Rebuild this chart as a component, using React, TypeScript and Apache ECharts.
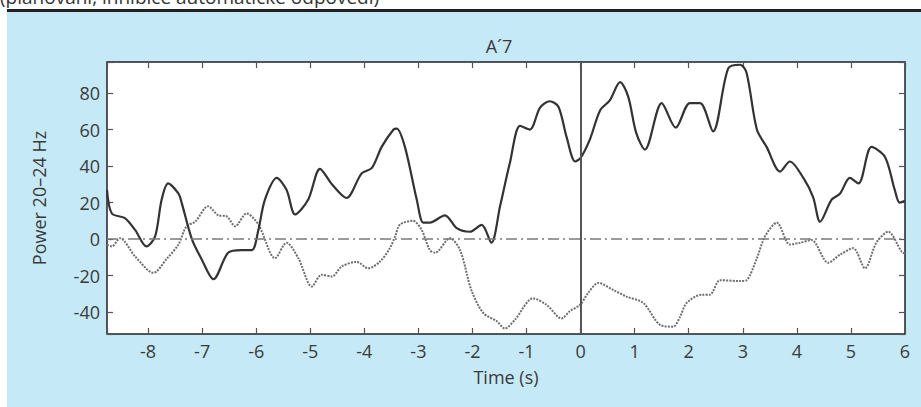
import React, { useEffect, useRef } from "react";
import * as echarts from "echarts";

const FONT = '"Open Sans", "Noto Sans", sans-serif';

// Axis ranges
const X_MIN = -8.76;
const X_MAX = 6;
const Y_MIN = -52;
const Y_MAX = 97;

const titleText = "A´7";
const headerText = "(plánování, inhibice automatické odpovědi)";
const xName = "Time (s)";
const yName = "Power 20–24 Hz";

// Solid (dark) trace
const solidTime = [
  -8.76, -8.67, -8.43, -8.24, -8.03, -7.87, -7.75, -7.63, -7.44, -7.38, -7.19, -7.01, -6.79, -6.52,
  -6.27, -6.08, -5.96, -5.84, -5.62, -5.44, -5.28, -5.04, -4.82, -4.6, -4.33, -4.05, -3.86, -3.68,
  -3.46, -3.4, -3.25, -3.03, -2.91, -2.79, -2.51, -2.29, -2.05, -1.83, -1.65, -1.49, -1.31, -1.12,
  -0.94, -0.75, -0.57, -0.41, -0.26, -0.1, 0, 0.17, 0.36, 0.54, 0.73, 0.88, 1.03, 1.19, 1.5, 1.76,
  2.02, 2.21, 2.45, 2.73, 2.95, 3.07, 3.26, 3.44, 3.69, 3.87, 4.12, 4.3, 4.43, 4.64, 4.8, 4.98,
  5.14, 5.38, 5.63, 5.81, 5.9, 6,
];
const solidPower = [
  27, 14, 11.5, 5, -4, 1.5, 21.5, 30.5, 25, 20, 0, -11, -22, -7.5,
  -6, -6, 5, 21.5, 33.5, 27, 13.5, 21.5, 38.5, 30, 22.5, 36, 39, 50.5,
  60, 60.5, 50.5, 21.5, 9, 9, 13, 6, 4, 7.8, -2, 18, 41.5, 62,
  60, 72, 75.5, 72.5, 56, 42.5, 44.5, 54.5, 70.5, 76, 86, 78, 58, 49, 74.5, 61,
  74.5, 74.5, 59, 93.5, 95.5, 91, 60, 50.5, 37, 42.5, 33.5, 23, 9.5, 21.5, 25, 33.5,
  30.5, 50.5, 45, 27, 20, 21,
];

// Dotted (grey) trace
const dottedTime = [
  -8.76, -8.67, -8.52, -8.24, -7.9, -7.66, -7.44, -7.29, -7.13, -6.89, -6.7, -6.55, -6.39, -6.18,
  -5.96, -5.65, -5.44, -5.22, -4.97, -4.79, -4.6, -4.42, -4.14, -3.93, -3.71, -3.53, -3.43, -3.34,
  -3.1, -2.94, -2.79, -2.69, -2.42, -2.23, -2.02, -1.8, -1.55, -1.4, -1.21, -0.88, -0.63, -0.35,
  -0.2, -0.01, 0.14, 0.33, 0.61, 0.85, 1.16, 1.47, 1.71, 1.84, 1.96, 2.24, 2.39, 2.58, 2.95, 3.07,
  3.26, 3.41, 3.63, 3.87, 4.06, 4.27, 4.58, 4.8, 5.04, 5.26, 5.47, 5.69, 5.94, 6,
];
const dottedPower = [
  -3, -4, 0.5, -9.5, -18.5, -11, -3, 7, 9.5, 18, 13, 12.5, 7, 14,
  8, -10.5, -2, -10.5, -26, -19.5, -20.5, -15, -12.5, -16, -12.3, -5, 1.5, 8,
  10, 5, -6, -7.5, 0.5, -6, -28, -40.5, -45, -49, -44, -32.5, -36, -43.5,
  -39.5, -36, -29.5, -24, -28, -31.5, -35, -47, -48, -42.5, -35, -30.5, -30.5, -22.5, -23, -22.5,
  -10.5, 1.5, 9, -3, -2, -0.5, -13, -8.5, -5, -16, -2, 4, -7, -8,
];

const solidData = solidTime.map((t, i) => [t, solidPower[i]]);
const dottedData = dottedTime.map((t, i) => [t, dottedPower[i]]);

const TEXT = "#3a3a3a";

function buildOption(): any {
  const tick = { inside: true, length: 6, lineStyle: { color: "#555", width: 1.2 } };
  const hiddenLine = { show: false, onZero: false };
  return {
    animation: false,
    backgroundColor: "#ffffff",
    textStyle: { fontFamily: FONT },
    graphic: [
      {
        type: "rect",
        z: -10,
        silent: true,
        shape: { x: 7, y: 12, width: 914, height: 395 },
        style: { fill: "#c6e9f8" },
      },
      {
        type: "rect",
        z: -9,
        silent: true,
        shape: { x: 7, y: 9, width: 914, height: 3 },
        style: { fill: "#231f20" },
      },
      {
        type: "text",
        x: 0,
        y: -3,
        silent: true,
        style: {
          text: headerText,
          font: `19px ${FONT}`,
          fill: "#333",
          textVerticalAlign: "middle",
        },
      },
      {
        type: "text",
        x: 499,
        y: 46,
        silent: true,
        style: {
          text: titleText,
          font: `18px ${FONT}`,
          fill: TEXT,
          textAlign: "center",
          textVerticalAlign: "middle",
        },
      },
    ],
    grid: {
      left: 107,
      right: 16,
      top: 62,
      bottom: 73,
      show: true,
      backgroundColor: "#ffffff",
      borderColor: "#231f20",
      borderWidth: 1.5,
    },
    xAxis: [
      {
        type: "value",
        min: X_MIN,
        max: X_MAX,
        splitNumber: 14,
        position: "bottom",
        axisLine: hiddenLine,
        axisTick: tick,
        splitLine: { show: false },
        axisLabel: {
          fontSize: 18,
          color: TEXT,
          margin: 8,
          formatter: (v: number) => (Number.isInteger(v) ? String(v) : ""),
        },
        name: xName,
        nameLocation: "middle",
        nameGap: 34,
        nameTextStyle: { fontSize: 18, color: TEXT },
      },
      {
        type: "value",
        min: X_MIN,
        max: X_MAX,
        splitNumber: 14,
        position: "top",
        axisLine: hiddenLine,
        axisTick: tick,
        splitLine: { show: false },
        axisLabel: { show: false },
      },
    ],
    yAxis: [
      {
        type: "value",
        min: Y_MIN,
        max: Y_MAX,
        splitNumber: 7,
        position: "left",
        axisLine: hiddenLine,
        axisTick: tick,
        splitLine: { show: false },
        axisLabel: {
          fontSize: 18,
          color: TEXT,
          margin: 7,
          formatter: (v: number) => (v % 20 === 0 ? String(v) : ""),
        },
        name: yName,
        nameLocation: "middle",
        nameGap: 59,
        nameTextStyle: { fontSize: 18, color: TEXT },
      },
      {
        type: "value",
        min: Y_MIN,
        max: Y_MAX,
        splitNumber: 7,
        position: "right",
        axisLine: hiddenLine,
        axisTick: tick,
        splitLine: { show: false },
        axisLabel: { show: false },
      },
    ],
    series: [
      {
        type: "line",
        data: dottedData,
        showSymbol: false,
        smooth: 0.3,
        z: 2,
        emphasis: { disabled: true },
        lineStyle: { color: "#6e6e6e", width: 2, type: [2, 1.2] },
        markLine: {
          silent: true,
          symbol: "none",
          label: { show: false },
          emphasis: { disabled: true },
          data: [
            { yAxis: 0, lineStyle: { color: "#7a7a7a", width: 1.5, type: [11, 4, 2, 4] } },
            { xAxis: 0, lineStyle: { color: "#555555", width: 2, type: "solid" } },
          ],
        },
      },
      {
        type: "line",
        data: solidData,
        showSymbol: false,
        smooth: 0.3,
        z: 3,
        emphasis: { disabled: true },
        lineStyle: { color: "#333333", width: 2.2 },
      },
    ],
  };
}

export default function App() {
  const ref = useRef<HTMLDivElement>(null);
  useEffect(() => {
    if (!ref.current) return;
    const chart = echarts.init(ref.current, null, { renderer: "svg" });
    chart.setOption(buildOption());
    return () => chart.dispose();
  }, []);
  return (
    <div
      ref={ref}
      style={{ position: "absolute", left: 0, top: 0, width: 921, height: 407 }}
    />
  );
}
